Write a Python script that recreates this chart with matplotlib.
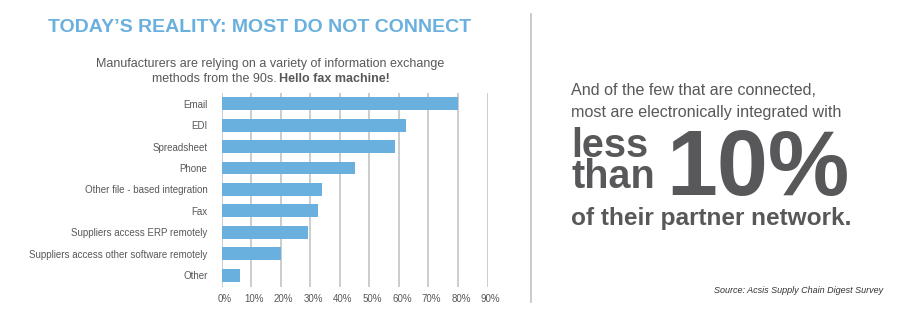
import numpy as np
import matplotlib
matplotlib.use('Agg')
import matplotlib.pyplot as plt
from matplotlib.transforms import ScaledTranslation

# survey results, share of manufacturers using each method (%)
methods = ['Email', 'EDI', 'Spreadsheet', 'Phone', 'Other file - based integration',
           'Fax', 'Suppliers access ERP remotely',
           'Suppliers access other software remotely', 'Other']
shares = [80, 62.5, 58.8, 45.3, 34.1, 32.8, 29.4, 20.3, 6.4]
ticks = [0, 10, 20, 30, 40, 50, 60, 70, 80, 90]

blue = '#6ab0de'
grey = '#58585a'
W, H = 913, 322

plt.rcParams['font.family'] = ['Liberation Sans', 'DejaVu Sans']

fig = plt.figure(figsize=(W / 100, H / 100), dpi=100)

def fx(px):
    return px / W

def fy(py):
    return 1 - py / H

ax = fig.add_axes([fx(221.5), fy(287), fx(487.5) - fx(221.5), fy(93) - fy(287)])
y = np.arange(len(methods))
ax.barh(y, shares, height=0.6, color=blue, zorder=3)
ax.set_xlim(0, 90)
ax.set_ylim(len(methods) - 0.45, -0.5)
ax.set_xticks(ticks)
ax.set_xticklabels([f'{t}%' for t in ticks], fontsize=7, color=grey)
ax.set_yticks(y)
ax.set_yticklabels(methods, fontsize=7, color=grey)
ax.tick_params(length=0)
ax.tick_params(axis='x', pad=5)
ax.tick_params(axis='y', pad=10)
shift = ScaledTranslation(3 / 100, 0, fig.dpi_scale_trans)
for lab in ax.get_xticklabels():
    lab.set_transform(lab.get_transform() + shift)
ax.grid(axis='x', color='#bfc5c6', lw=1.2, zorder=0)
for s in ax.spines.values():
    s.set_visible(False)

# title and subtitle
fig.text(fx(260), fy(31.7), 'TODAY\u2019S REALITY: MOST DO NOT CONNECT', color=blue,
         fontsize=14, fontweight='bold', ha='center', va='baseline')
fig.text(fx(270), fy(66.5), 'Manufacturers are relying on a variety of information exchange',
         fontsize=9, color=grey, ha='center', va='baseline')
fig.text(fx(277), fy(82), 'methods from the 90s.', fontsize=9, color=grey,
         ha='right', va='baseline')
fig.text(fx(279), fy(82), 'Hello fax machine!', fontsize=9, color=grey,
         fontweight='bold', ha='left', va='baseline')

# divider
fig.add_artist(plt.Line2D([fx(530.5)] * 2, [fy(14), fy(301.5)], color='#bcc4c3', lw=1.2))

# right-hand callout
fig.text(fx(571), fy(95.5), 'And of the few that are connected,', fontsize=11.6,
         color=grey, va='baseline')
fig.text(fx(571), fy(116.7), 'most are electronically integrated with', fontsize=11.6,
         color=grey, va='baseline')
fig.text(fx(571), fy(157), 'less', fontsize=28.5, fontweight='bold', color=grey,
         va='baseline')
fig.text(fx(571), fy(188), 'than', fontsize=28.5, fontweight='bold', color=grey,
         va='baseline')
fig.text(fx(666), fy(195), '10%', fontsize=66, fontweight='bold', color=grey,
         va='baseline')
fig.text(fx(571), fy(225.5), 'of their partner network.', fontsize=17.6,
         fontweight='bold', color=grey, va='baseline')
fig.text(fx(883), fy(293), 'Source: Acsis Supply Chain Digest Survey', fontsize=6.5,
         style='italic', color='#333333', ha='right', va='baseline')

plt.savefig('out.png', dpi=100)
